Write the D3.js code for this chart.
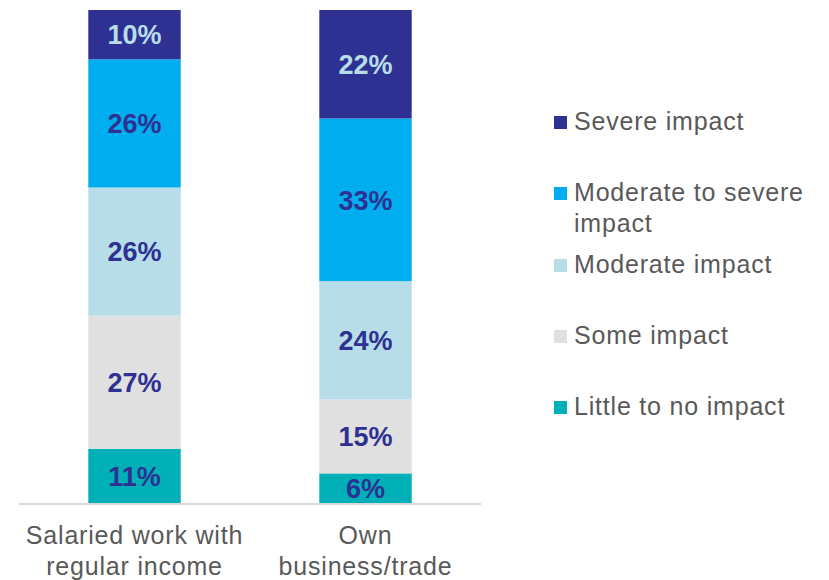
<!DOCTYPE html>
<html lang="en">
	<head>
		<meta charset="utf-8">
		<title>Impact by type of work</title>
		<script type="text/javascript" src="https://d3js.org/d3.v7.min.js"></script>
		<style type="text/css">
			body { margin: 0; background: #fff; }
			text { font-family: "Liberation Sans", Arial, sans-serif; }
		</style>
	</head>
	<body>
		<script type="text/javascript">

			//Width and height
			var w = 829;
			var h = 580;

			//Data
			var categories = [["Salaried work with", "regular income"], ["Own", "business/trade"]];
			var seriesNames = ["Little to no impact", "Some impact", "Moderate impact", "Moderate to severe impact", "Severe impact"];
			var littleNo = [11, 6];
			var some = [27, 15];
			var moderate = [26, 24];
			var modSevere = [26, 33];
			var severe = [10, 22];

			var colors = ["#00B0B9", "#E0E0E0", "#B7DEE8", "#00AEEF", "#2E3192"];
			var labelColors = ["#2E3192", "#2E3192", "#2E3192", "#2E3192", "#B7DEE8"];

			var rows = categories.map(function(c, i) {
				return { idx: i, little: littleNo[i], some: some[i], moderate: moderate[i], modSevere: modSevere[i], severe: severe[i] };
			});
			var keys = ["little", "some", "moderate", "modSevere", "severe"];
			var stacked = d3.stack().keys(keys)(rows);

			//Scales
			var x = d3.scaleBand()
				.domain([0, 1])
				.range([19, 481])
				.paddingInner(0.6)
				.paddingOuter(0.3);

			var y = d3.scaleLinear()
				.domain([0, 100])
				.range([503, 10]);

			//Create SVG element
			var svg = d3.select("body")
				.append("svg")
				.attr("width", w)
				.attr("height", h);

			var layers = svg.selectAll("g.layer")
				.data(stacked)
				.enter()
				.append("g")
				.attr("class", "layer")
				.attr("fill", function(d, i) { return colors[i]; });

			layers.selectAll("rect")
				.data(function(d) { return d; })
				.enter()
				.append("rect")
				.attr("x", function(d) { return x(d.data.idx); })
				.attr("width", x.bandwidth())
				.attr("y", function(d) { return y(d[1]); })
				.attr("height", function(d) { return y(d[0]) - y(d[1]); });

			//value labels
			layers.selectAll("text")
				.data(function(d, i) { return d.map(function(p) { return { p: p, s: i }; }); })
				.enter()
				.append("text")
				.attr("x", function(d) { return x(d.p.data.idx) + x.bandwidth() / 2; })
				.attr("y", function(d) { return (y(d.p[0]) + y(d.p[1])) / 2; })
				.attr("dy", "0.36em")
				.attr("text-anchor", "middle")
				.attr("font-size", 27)
				.attr("font-weight", "bold")
				.attr("fill", function(d) { return labelColors[d.s]; })
				.text(function(d) { return (d.p[1] - d.p[0]) + "%"; });

			//baseline
			svg.append("line")
				.attr("x1", 19)
				.attr("x2", 481)
				.attr("y1", y(0) + 1)
				.attr("y2", y(0) + 1)
				.attr("stroke", "#D9D9D9")
				.attr("stroke-width", 2);

			//category labels
			var cat = svg.selectAll("text.cat")
				.data(categories)
				.enter()
				.append("text")
				.attr("class", "cat")
				.attr("text-anchor", "middle")
				.attr("font-size", 25)
				.attr("letter-spacing", 0.8)
				.attr("fill", "#595959");

			cat.selectAll("tspan")
				.data(function(d, i) { return d.map(function(t) { return { t: t, i: i }; }); })
				.enter()
				.append("tspan")
				.attr("x", function(d) { return x(d.i) + x.bandwidth() / 2; })
				.attr("y", function(d, j) { return 544 + j * 31; })
				.text(function(d) { return d.t; });

			//legend
			var legendItems = [
				{ s: 4, lines: ["Severe impact"], y: 122 },
				{ s: 3, lines: ["Moderate to severe", "impact"], y: 193 },
				{ s: 2, lines: ["Moderate impact"], y: 265 },
				{ s: 1, lines: ["Some impact"], y: 336 },
				{ s: 0, lines: ["Little to no impact"], y: 407 }
			];

			var legend = svg.selectAll("g.legend")
				.data(legendItems)
				.enter()
				.append("g")
				.attr("class", "legend")
				.attr("transform", function(d) { return "translate(554," + d.y + ")"; });

			legend.append("rect")
				.attr("x", 0)
				.attr("y", -6)
				.attr("width", 13)
				.attr("height", 13)
				.attr("fill", function(d) { return colors[d.s]; });

			legend.append("text")
				.attr("font-size", 25)
				.attr("letter-spacing", 0.8)
				.attr("fill", "#595959")
				.selectAll("tspan")
				.data(function(d) { return d.lines; })
				.enter()
				.append("tspan")
				.attr("x", 20)
				.attr("y", function(d, j) { return 8 + j * 31; })
				.text(function(d) { return d; });

		</script>
	</body>
</html>
